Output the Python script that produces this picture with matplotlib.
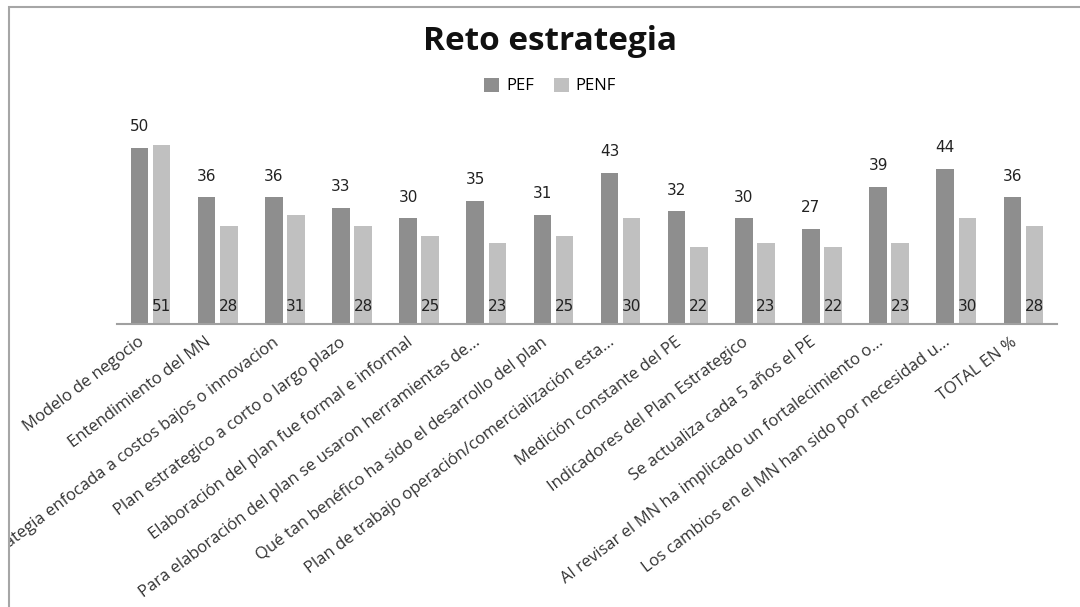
import matplotlib
matplotlib.use("Agg")
import matplotlib.pyplot as plt
import numpy as np
from matplotlib.patches import Rectangle
from matplotlib.transforms import Bbox, TransformedBbox, ScaledTranslation

categories = [
    "Modelo de negocio",
    "Entendimiento del MN",
    "Estrategia enfocada a costos bajos o innovacion",
    "Plan estrategico a corto o largo plazo",
    "Elaboración del plan fue formal e informal",
    "Para elaboración del plan se usaron herramientas de...",
    "Qué tan benéfico ha sido el desarrollo del plan",
    "Plan de trabajo operación/comercialización esta...",
    "Medición constante del PE",
    "Indicadores del Plan Estrategico",
    "Se actualiza cada 5 años el PE",
    "Al revisar el MN ha implicado un fortalecimiento o...",
    "Los cambios en el MN han sido por necesidad u...",
    "TOTAL EN %",
]
pef = [50, 36, 36, 33, 30, 35, 31, 43, 32, 30, 27, 39, 44, 36]
penf = [51, 28, 31, 28, 25, 23, 25, 30, 22, 23, 22, 23, 30, 28]

C_PEF = "#8e8e8e"
C_PENF = "#c0c0c0"

W, H = 1080, 607
fig = plt.figure(figsize=(W / 100, H / 100), dpi=100)
ax = fig.add_axes([117 / W, 1 - 324 / H, 940 / W, 211 / H])

x = np.arange(len(categories))
bw = 0.26
off = 0.165
b1 = ax.bar(x - off, pef, bw, color=C_PEF, label="PEF")
b2 = ax.bar(x + off, penf, bw, color=C_PENF, label="PENF")

for xi, v in zip(x, pef):
    ax.annotate(str(v), (xi - off, v), xytext=(0, 10), textcoords="offset points",
                ha="center", va="bottom", fontsize=11, color="#222222", family="DejaVu Sans")
for xi, v in zip(x, penf):
    ax.annotate(str(v), (xi + off, 0), xytext=(0, 7), textcoords="offset points",
                ha="center", va="bottom", fontsize=11, color="#222222", family="DejaVu Sans")

ax.set_xlim(-0.5, len(categories) - 0.5)
ax.set_ylim(0, 60)
ax.set_yticks([])
for s in ["top", "right", "left"]:
    ax.spines[s].set_visible(False)
ax.spines["bottom"].set_color("#a0a0a0")
ax.spines["bottom"].set_linewidth(1.5)
ax.set_xticks(x)
ax.set_xticklabels(categories, rotation=37, ha="right", va="center",
                   rotation_mode="anchor", fontsize=12, family="Open Sans", color="#333333")
ax.tick_params(axis="x", length=0, pad=12)

# nudge labels a bit left, clip them at the chart border like the original
shift = ScaledTranslation(-8 / 100, 0, fig.dpi_scale_trans)
clip = TransformedBbox(Bbox([[9 / W, -1], [2, 1 - 7 / H]]), fig.transFigure)
for lbl in ax.get_xticklabels():
    lbl.set_transform(lbl.get_transform() + shift)
    lbl.set_clip_box(clip)
    lbl.set_clip_on(True)

cx = 550 / W
fig.text(cx, 1 - 41 / H, "Reto estrategia", ha="center", va="center",
         fontsize=24, fontweight="bold", family="Open Sans", color="#111111")
fig.legend(handles=[b1, b2], loc="center", bbox_to_anchor=(cx, 1 - 86 / H), ncol=2,
           frameon=False, handlelength=0.9, handleheight=0.9,
           handletextpad=0.4, columnspacing=1.2, prop={"family": "Open Sans", "size": 12})

fig.patches.append(Rectangle((9 / W, -0.1), 1.2, 1.1 - 7 / H, transform=fig.transFigure,
                             fill=False, edgecolor="#a6a6a6", linewidth=1.5))

fig.savefig("out.png", dpi=100)
print("saved out.png")
